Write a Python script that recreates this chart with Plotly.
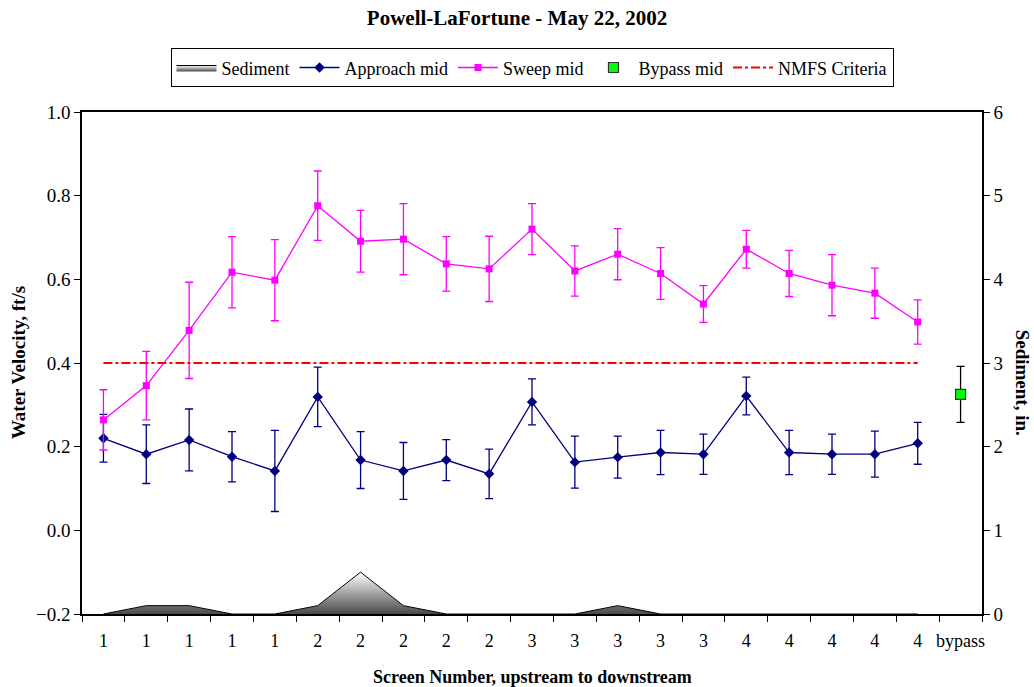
import plotly.graph_objects as go

# ---- data ----
tick_labels = ["1", "1", "1", "1", "1", "2", "2", "2", "2", "2",
               "3", "3", "3", "3", "3", "4", "4", "4", "4", "4", "bypass"]
positions = list(range(21))
screen_pos = positions[:20]
bypass_pos = [20]

approach_mid = [0.220, 0.182, 0.216, 0.176, 0.142, 0.319, 0.168, 0.142, 0.168, 0.135,
                0.307, 0.163, 0.175, 0.186, 0.182, 0.321, 0.186, 0.182, 0.182, 0.208]
approach_err = [0.057, 0.070, 0.074, 0.060, 0.097, 0.071, 0.068, 0.068, 0.049, 0.059,
                0.055, 0.062, 0.050, 0.053, 0.048, 0.045, 0.053, 0.048, 0.055, 0.050]

sweep_mid = [0.264, 0.346, 0.478, 0.617, 0.598, 0.776, 0.691, 0.696, 0.637, 0.625,
             0.720, 0.620, 0.660, 0.614, 0.541, 0.672, 0.614, 0.586, 0.567, 0.498]
sweep_err = [0.072, 0.082, 0.115, 0.085, 0.097, 0.083, 0.074, 0.085, 0.065, 0.078,
             0.061, 0.060, 0.061, 0.062, 0.044, 0.045, 0.055, 0.073, 0.060, 0.053]

bypass_mid = [0.325]
bypass_err = [0.067]

nmfs_criteria = [0.4] * 20

sediment_in = [0.0, 0.1, 0.1, 0.0, 0.0, 0.1, 0.5, 0.1, 0.0, 0.0,
               0.0, 0.0, 0.1, 0.0, 0.0, 0.0, 0.0, 0.0, 0.0, 0.0]

SERIF = "Liberation Serif, Times New Roman, serif"

fig = go.Figure()

fig.add_trace(go.Scatter(
    x=screen_pos, y=sediment_in, name="Sediment", yaxis="y2",
    mode="lines", line=dict(color="black", width=1),
    fill="tozeroy",
    fillgradient=dict(type="vertical", start=0, stop=0.5,
                      colorscale=[[0, "#4a4a4a"], [1, "#ffffff"]]),
))

fig.add_trace(go.Scatter(
    x=screen_pos, y=approach_mid, name="Approach mid",
    mode="lines+markers",
    line=dict(color="#000080", width=1.3),
    marker=dict(symbol="diamond", size=8, color="#000080"),
    error_y=dict(type="data", array=approach_err, color="#000080", thickness=1.3, width=4),
))

fig.add_trace(go.Scatter(
    x=screen_pos, y=sweep_mid, name="Sweep mid",
    mode="lines+markers",
    line=dict(color="#FF00FF", width=1.3),
    marker=dict(symbol="square", size=7, color="#FF00FF"),
    error_y=dict(type="data", array=sweep_err, color="#FF00FF", thickness=1.3, width=4),
))

fig.add_trace(go.Scatter(
    x=bypass_pos, y=bypass_mid, name="Bypass mid",
    mode="markers",
    marker=dict(symbol="square", size=10, color="#00FF00",
                line=dict(color="#333333", width=1.2)),
    error_y=dict(type="data", array=bypass_err, color="black", thickness=1.3, width=4),
))

fig.add_trace(go.Scatter(
    x=screen_pos, y=nmfs_criteria, name="NMFS Criteria",
    mode="lines", line=dict(color="#FF0000", width=2.2, dash="dashdot"),
))

fig.update_layout(
    width=1034, height=687,
    margin=dict(l=82, r=52, t=112, b=73),
    paper_bgcolor="white", plot_bgcolor="white",
    font=dict(family=SERIF, size=18, color="black"),
    title=dict(text="<b>Powell-LaFortune - May 22, 2002</b>", x=0.5, xanchor="center",
               y=0.974, yanchor="middle", font=dict(family=SERIF, size=21)),
    showlegend=True,
    legend=dict(orientation="h", x=0.5, xanchor="center", y=1.088, yanchor="middle",
                bordercolor="black", borderwidth=1, font=dict(family=SERIF, size=18),
                traceorder="normal", itemwidth=40, tracegroupgap=0),
    xaxis=dict(range=[-0.5, 20.5], tickvals=positions, ticktext=tick_labels,
               showgrid=False, zeroline=False, showline=True, linecolor="black",
               linewidth=1.5, mirror=True, ticks="", tickfont=dict(size=18),
               ticklabelstandoff=10,
               minor=dict(ticks="outside", tick0=-0.5, dtick=1, ticklen=6,
                          tickcolor="black", showgrid=False)),
    yaxis=dict(range=[-0.2, 1.0], dtick=0.2, tickformat=".1f", showgrid=False,
               zeroline=False, showline=True, linecolor="black", linewidth=1.5,
               ticks="outside", ticklen=6, tickcolor="black", tickfont=dict(size=19)),
    yaxis2=dict(range=[0, 6], dtick=1, overlaying="y", side="right", showgrid=False,
                zeroline=False, showline=True, linecolor="black", linewidth=1.5,
                ticks="outside", ticklen=6, tickcolor="black", tickfont=dict(size=19)),
    annotations=[
        dict(text="<b>Water Velocity, ft/s</b>", xref="paper", yref="paper",
             x=-0.071, y=0.5, xanchor="center", yanchor="middle", textangle=-90,
             showarrow=False, font=dict(family=SERIF, size=19)),
        dict(text="<b>Sediment, in.</b>", xref="paper", yref="paper",
             x=1.046, y=0.46, xanchor="center", yanchor="middle", textangle=90,
             showarrow=False, font=dict(family=SERIF, size=19)),
        dict(text="<b>Screen Number, upstream to downstream</b>", xref="paper", yref="paper",
             x=0.5, y=-0.126, xanchor="center", yanchor="middle",
             showarrow=False, font=dict(family=SERIF, size=18)),
    ],
)

fig.write_html("out.html", config={"displayModeBar": False},
               post_script="document.body.style.margin='0';document.body.style.overflow='hidden';")
